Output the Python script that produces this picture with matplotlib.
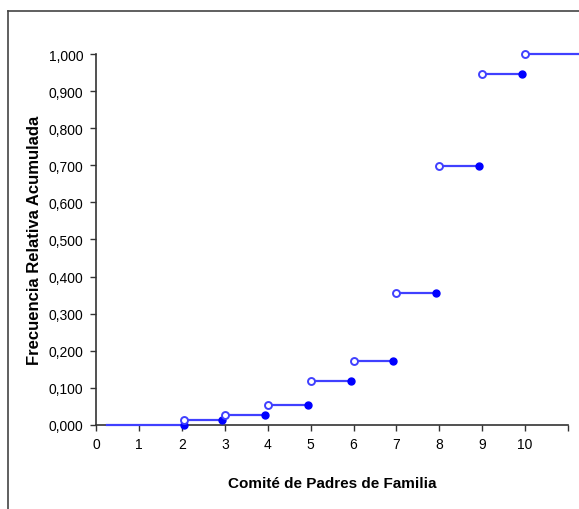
import matplotlib.pyplot as plt
from matplotlib.lines import Line2D
from matplotlib.ticker import FuncFormatter

# Datos: frecuencia relativa acumulada por valor
valores = [2, 3, 4, 5, 6, 7, 8, 9, 10]
frec_acum = [0.013, 0.027, 0.054, 0.118, 0.172, 0.355, 0.697, 0.946, 1.000]
inicio = 0.26
fin = 11.25

plt.rcParams['font.family'] = ['Liberation Sans', 'DejaVu Sans']

fig = plt.figure(figsize=(5.79, 5.10), dpi=100)
ax = fig.add_axes([0.166, 0.165, 0.815, 0.727])

linea = '#4040ff'
punto = '#0000ff'

# tramo inicial en cero
ax.plot([inicio, valores[0] + 0.04], [0, 0], color=linea, lw=1.6, clip_on=False, zorder=3)
ax.plot(valores[0] + 0.04, 0, 'o', color=punto, ms=5, clip_on=False, zorder=4)

for i, (x, y) in enumerate(zip(valores, frec_acum)):
    x0 = x + (0.05 if i == 0 else 0.0)
    x1 = valores[i + 1] - 0.07 if i + 1 < len(valores) else fin
    ax.plot([x0, x1], [y, y], color=linea, lw=1.6, clip_on=False, zorder=3)
    if i + 1 < len(valores):
        ax.plot(x1, y, 'o', color=punto, ms=5, clip_on=False, zorder=4)
    ax.plot(x0, y, 'o', mfc='white', mec=linea, mew=1.4, ms=5, clip_on=False, zorder=5)

ax.set_xlim(0, 11)
ax.set_ylim(0, 1.0)
ax.set_xticks(range(0, 12))
ax.set_xticklabels([str(v) for v in range(0, 11)] + [''])
ax.set_yticks([i / 10 for i in range(11)])
ax.yaxis.set_major_formatter(FuncFormatter(lambda v, p: f'{v:.3f}'.replace('.', ',')))

for s in ['top', 'right']:
    ax.spines[s].set_visible(False)
for s in ['left', 'bottom']:
    ax.spines[s].set_color('#333333')
    ax.spines[s].set_linewidth(1.2)
ax.tick_params(direction='out', length=4, width=1, color='#333333', labelsize=10, pad=5)

ax.set_xlabel('Comité de Padres de Familia', fontsize=11, fontweight='bold', labelpad=18)
ax.set_ylabel('Frecuencia Relativa Acumulada', fontsize=12, fontweight='bold', labelpad=5)

# marco exterior del gráfico
fig.add_artist(Line2D([8 / 579, 8 / 579], [0, 1 - 12 / 510], color='#444444', lw=1.2))
fig.add_artist(Line2D([8 / 579, 1], [1 - 12 / 510, 1 - 12 / 510], color='#444444', lw=1.2))

fig.savefig('out.png', dpi=100)
